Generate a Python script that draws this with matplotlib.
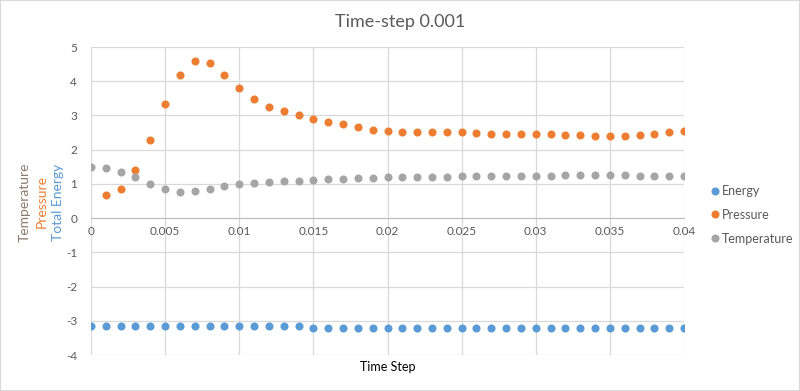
import numpy as np
import matplotlib
matplotlib.use("Agg")
import matplotlib.pyplot as plt
from matplotlib.patches import Rectangle

plt.rcParams['font.family'] = ['Lato', 'DejaVu Sans']
plt.rcParams['axes.unicode_minus'] = False

# data
time_step = [round(0.001 * i, 3) for i in range(41)]

energy = [-3.16] * 15 + [-3.2] * 26

pressure_t = time_step[1:]
pressure = [0.68, 0.85, 1.41, 2.29, 3.32, 4.18, 4.59, 4.53, 4.18, 3.79,
            3.47, 3.26, 3.12, 3.0, 2.91, 2.82, 2.74, 2.65, 2.57, 2.55,
            2.52, 2.52, 2.52, 2.52, 2.52, 2.49, 2.46, 2.46, 2.46, 2.46,
            2.46, 2.43, 2.43, 2.40, 2.40, 2.40, 2.43, 2.46, 2.52, 2.55]

temperature = [1.50, 1.47, 1.35, 1.21, 1.0, 0.85, 0.76, 0.79, 0.85, 0.94,
               1.0, 1.03, 1.06, 1.09, 1.09, 1.12, 1.15, 1.15, 1.18, 1.17,
               1.20, 1.20, 1.20, 1.20, 1.20, 1.23, 1.23, 1.23, 1.23, 1.23,
               1.23, 1.23, 1.26, 1.26, 1.26, 1.26, 1.26, 1.23, 1.23, 1.23,
               1.23]

x_ticks = [0, 0.005, 0.01, 0.015, 0.02, 0.025, 0.03, 0.035, 0.04]
x_labels = ['0', '0.005', '0.01', '0.015', '0.02', '0.025', '0.03', '0.035', '0.04']
y_ticks = list(range(-4, 6))

blue = '#5b9bd5'
orange = '#ed7d31'
grey = '#a5a5a5'
txt = '#595959'

fig = plt.figure(figsize=(8, 3.91), dpi=100)
ax = fig.add_axes([91/800, 36/391, (684-91)/800, (355-47)/391])

ax.plot(time_step, energy, 'o', color=blue, ms=5.8, mec='none', label='Energy', zorder=3)
ax.plot(pressure_t, pressure, 'o', color=orange, ms=5.8, mec='none', label='Pressure', zorder=3)
ax.plot(time_step, temperature, 'o', color=grey, ms=5.8, mec='none', label='Temperature', zorder=3)

ax.set_xlim(0, 0.04)
ax.set_ylim(-4, 5)
ax.set_xticks(x_ticks)
ax.set_xticklabels(x_labels)
ax.set_yticks(y_ticks)
ax.grid(True, color='#d9d9d9', lw=0.9, zorder=0)
ax.set_axisbelow(True)

for s in ['top', 'right', 'left']:
    ax.spines[s].set_visible(False)
ax.spines['bottom'].set_position(('data', 0))
ax.spines['bottom'].set_color('#bfbfbf')
ax.tick_params(length=0, labelsize=8.5, colors=txt, pad=6)
ax.tick_params(axis='y', pad=10)

fig.text(0.5, 1 - 22/391, 'Time-step 0.001', ha='center', va='center',
         fontsize=13, color=txt)
fig.text(387.5/800, 1 - 367/391, 'Time Step', ha='center', va='center',
         fontsize=9, color='black')

fig.text(25/800, 1 - 202/391, 'Temperature', rotation=90, ha='center', va='center',
         fontsize=10, color='#8a7b6e')
fig.text(42/800, 1 - 202/391, 'Pressure', rotation=90, ha='center', va='center',
         fontsize=10, color=orange)
fig.text(58/800, 1 - 202/391, 'Total Energy', rotation=90, ha='center', va='center',
         fontsize=10, color=blue)

leg = fig.legend(loc='upper left', bbox_to_anchor=(702/800, 1 - 180/391),
                 frameon=False, fontsize=9, handletextpad=0.0,
                 handlelength=1.2, labelspacing=0.95, borderaxespad=0)
for t in leg.get_texts():
    t.set_color(txt)

fig.patches.append(Rectangle((0, 0), 1, 1, transform=fig.transFigure,
                             fill=False, edgecolor='#d9d9d9', lw=1.5))

fig.savefig('out.png', dpi=100)
